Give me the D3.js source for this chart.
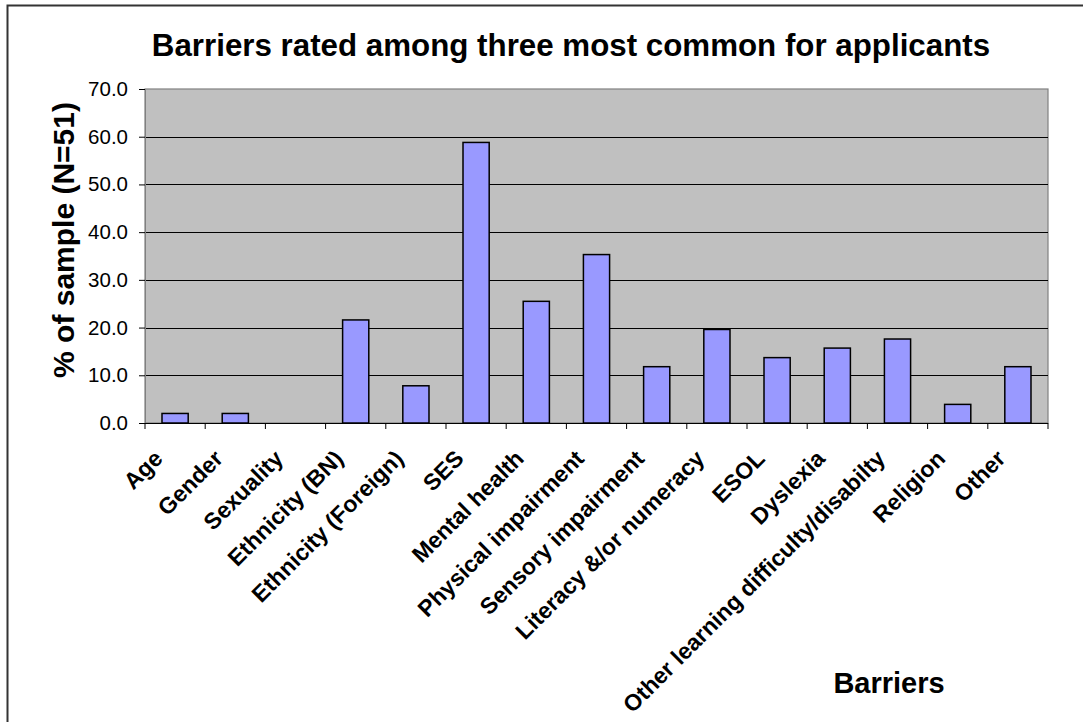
<!DOCTYPE html>
<html>
<head>
<meta charset="utf-8">
<script src="https://cdn.jsdelivr.net/npm/d3@7"></script>
<style>
  html, body { margin: 0; padding: 0; background: #fff; }
  svg { display: block; }
  text { font-family: Arial, "Liberation Sans", sans-serif; fill: #000; }
</style>
</head>
<body>
<svg id="chart" width="1083" height="722"></svg>
<script>
// Barrier categories and share of respondents (N = 51) rating each among the three most common
const categories = [
  "Age", "Gender", "Sexuality", "Ethnicity (BN)", "Ethnicity (Foreign)", "SES",
  "Mental health", "Physical impairment", "Sensory impairment",
  "Literacy &/or numeracy", "ESOL", "Dyslexia",
  "Other learning difficulty/disabilty", "Religion", "Other"
];
const percentages = [2.0, 2.0, 0.0, 21.6, 7.8, 58.8, 25.5, 35.3, 11.8, 19.6, 13.7, 15.7, 17.6, 3.9, 11.8];
const yTicks = [0, 10, 20, 30, 40, 50, 60, 70];

const titleText = "Barriers rated among three most common for applicants";
const yTitleText = "% of sample (N=51)";
const xTitleText = "Barriers";

const svg = d3.select("#chart");

// Chart frame
svg.append("rect")
  .attr("x", 7.5).attr("y", 5.5)
  .attr("width", 1100).attr("height", 740)
  .attr("fill", "#fff")
  .attr("stroke", "#333").attr("stroke-width", 2);

const plot = { left: 145, top: 89, right: 1048, bottom: 423 };

const x = d3.scaleBand()
  .domain(categories)
  .range([plot.left, plot.right])
  .paddingInner(0.565)
  .paddingOuter(0.2825);

const xBand = d3.scaleBand().domain(categories).range([plot.left, plot.right]);

const y = d3.scaleLinear().domain([0, 70]).range([plot.bottom, plot.top]);

// Plot area background
svg.append("rect")
  .attr("x", plot.left).attr("y", plot.top)
  .attr("width", plot.right - plot.left).attr("height", plot.bottom - plot.top)
  .attr("fill", "#c0c0c0")
  .attr("stroke", "#808080").attr("stroke-width", 1.2);

// Horizontal gridlines
svg.append("g")
  .selectAll("line")
  .data(yTicks.filter(t => t > 0 && t < 70))
  .join("line")
  .attr("x1", plot.left).attr("x2", plot.right)
  .attr("y1", d => Math.round(y(d)) + 0.5).attr("y2", d => Math.round(y(d)) + 0.5)
  .attr("stroke", "#000").attr("stroke-width", 1);

// Bars
svg.append("g")
  .selectAll("rect")
  .data(categories.map((c, i) => ({ c, v: percentages[i] })).filter(d => d.v > 0))
  .join("rect")
  .attr("x", d => x(d.c))
  .attr("y", d => y(d.v))
  .attr("width", x.bandwidth())
  .attr("height", d => y(0) - y(d.v))
  .attr("fill", "#9999ff")
  .attr("stroke", "#000").attr("stroke-width", 1.5);

// Y axis
const yAxis = svg.append("g")
  .attr("transform", `translate(${plot.left},0)`)
  .call(d3.axisLeft(y).tickValues(yTicks).tickFormat(d3.format(".1f")).tickSize(6).tickPadding(11));
yAxis.attr("font-size", null).attr("font-family", null);
yAxis.select(".domain").attr("stroke", "#808080");
yAxis.selectAll(".tick line").attr("stroke", "#000");
yAxis.selectAll("text")
  .style("font-size", "20.5px")
  .style("font-family", "Arial, 'Liberation Sans', sans-serif")
  .attr("fill", "#000");

// X axis with ticks at category boundaries
const xAxis = svg.append("g").attr("transform", `translate(0,${plot.bottom})`);
xAxis.append("line")
  .attr("x1", plot.left).attr("x2", plot.right)
  .attr("y1", 0.5).attr("y2", 0.5)
  .attr("stroke", "#000").attr("stroke-width", 1.2);
const boundaries = categories.map(c => xBand(c)).concat([plot.right]);
xAxis.selectAll("line.tk")
  .data(boundaries)
  .join("line")
  .attr("class", "tk")
  .attr("x1", d => d).attr("x2", d => d)
  .attr("y1", 0).attr("y2", 6)
  .attr("stroke", "#000").attr("stroke-width", 1);

// Rotated category labels
xAxis.selectAll("text.cat")
  .data(categories)
  .join("text")
  .attr("class", "cat")
  .attr("text-anchor", "end")
  .style("font-size", "23px")
  .attr("font-weight", "bold")
  .attr("transform", d => `translate(${xBand(d) + xBand.bandwidth() / 2 - 11},37) rotate(-45)`)
  .text(d => d);

// Titles
svg.append("text")
  .attr("x", 571).attr("y", 56)
  .attr("text-anchor", "middle")
  .style("font-size", "31.3px").attr("font-weight", "bold")
  .text(titleText);

svg.append("text")
  .attr("transform", "translate(74,240) rotate(-90)")
  .attr("text-anchor", "middle")
  .style("font-size", "30px").attr("font-weight", "bold")
  .text(yTitleText);

svg.append("text")
  .attr("x", 889).attr("y", 693)
  .attr("text-anchor", "middle")
  .style("font-size", "29px").attr("font-weight", "bold")
  .text(xTitleText);
</script>
</body>
</html>
